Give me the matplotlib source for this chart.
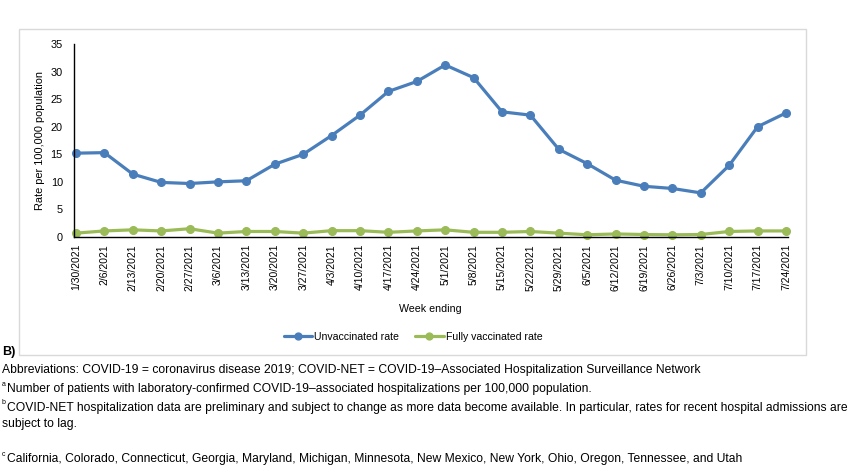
import matplotlib
matplotlib.use("Agg")
import matplotlib.pyplot as plt
from matplotlib.patches import Rectangle

plt.rcParams['font.family'] = ['Liberation Sans', 'DejaVu Sans']

weeks = ["1/30/2021", "2/6/2021", "2/13/2021", "2/20/2021", "2/27/2021", "3/6/2021",
         "3/13/2021", "3/20/2021", "3/27/2021", "4/3/2021", "4/10/2021", "4/17/2021",
         "4/24/2021", "5/1/2021", "5/8/2021", "5/15/2021", "5/22/2021", "5/29/2021",
         "6/5/2021", "6/12/2021", "6/19/2021", "6/26/2021", "7/3/2021", "7/10/2021",
         "7/17/2021", "7/24/2021"]
unvaccinated = [15.2, 15.3, 11.4, 9.9, 9.7, 10.0, 10.2, 13.2, 15.0, 18.4, 22.1, 26.4,
                28.2, 31.2, 28.9, 22.7, 22.1, 15.9, 13.3, 10.3, 9.2, 8.8, 8.0, 13.0,
                20.0, 22.5]
fully_vaccinated = [0.7, 1.1, 1.3, 1.1, 1.5, 0.7, 1.0, 1.0, 0.7, 1.15, 1.15, 0.85,
                    1.1, 1.3, 0.85, 0.85, 1.0, 0.7, 0.4, 0.55, 0.45, 0.4, 0.45, 1.0,
                    1.1, 1.1]
yticks = [0, 5, 10, 15, 20, 25, 30, 35]

W, H = 865, 475
fig = plt.figure(figsize=(W / 100, H / 100), dpi=100)

# chart frame
frame = Rectangle((19 / W, 1 - 355 / H), (806 - 19) / W, (355 - 29) / H,
                  transform=fig.transFigure, facecolor='none',
                  edgecolor='#d9d9d9', linewidth=1.0, zorder=-5)
fig.patches.append(frame)

ax = fig.add_axes([74 / W, 1 - 237 / H, (788 - 74) / W, (237 - 44) / H], zorder=2)
ax.patch.set_alpha(0)
x = list(range(len(weeks)))
blue = '#4a7ebb'
green = '#9bbb59'
l1, = ax.plot(x, unvaccinated, color=blue, lw=2.3, marker='o', ms=5.5,
              label='Unvaccinated rate', solid_capstyle='round', clip_on=False)
l2, = ax.plot(x, fully_vaccinated, color=green, lw=2.3, marker='o', ms=5.5,
              label='Fully vaccinated rate', solid_capstyle='round', clip_on=False)

ax.set_xlim(-0.07, len(weeks) - 1 + 0.07)
ax.set_ylim(0, 35)
ax.set_yticks(yticks)
ax.set_yticklabels([str(v) for v in yticks], fontsize=7.8)
ax.set_xticks(x)
ax.set_xticklabels(weeks, rotation=90, fontsize=7.5)
ax.tick_params(axis='y', length=0, pad=8)
ax.tick_params(axis='x', length=0, pad=5)
for s in ['top', 'right']:
    ax.spines[s].set_visible(False)
for s in ['left', 'bottom']:
    ax.spines[s].set_color('black')
    ax.spines[s].set_linewidth(1.0)

fig.text(40 / W, 1 - 140 / H, 'Rate per 100,000 population', rotation=90,
         ha='center', va='center', fontsize=7.9)
fig.text(430 / W, 1 - 309 / H, 'Week ending', ha='center', va='center', fontsize=7.7)

leg = fig.legend(handles=[l1, l2], loc='center', bbox_to_anchor=(413 / W, 1 - 337 / H),
                 ncol=2, frameon=False, fontsize=7.6, handlelength=2.7,
                 columnspacing=1.5, handletextpad=0.2, markerscale=0.9)

fs = 8.7
fig.text(2 / W, 1 - 352 / H, 'B)', fontsize=9, fontweight='bold', va='center')
fig.text(2 / W, 1 - 370 / H,
         'Abbreviations: COVID-19 = coronavirus disease 2019; COVID-NET = COVID-19\u2013Associated Hospitalization Surveillance Network',
         fontsize=fs, va='center')
fig.text(2 / W, 1 - 384 / H, 'a', fontsize=5, va='center')
fig.text(7 / W, 1 - 389 / H,
         'Number of patients with laboratory-confirmed COVID-19\u2013associated hospitalizations per 100,000 population.',
         fontsize=fs, va='center')
fig.text(2 / W, 1 - 403 / H, 'b', fontsize=5, va='center')
fig.text(7 / W, 1 - 408 / H,
         'COVID-NET hospitalization data are preliminary and subject to change as more data become available. In particular, rates for recent hospital admissions are',
         fontsize=fs, va='center')
fig.text(2 / W, 1 - 424 / H, 'subject to lag.', fontsize=fs, va='center')
fig.text(2 / W, 1 - 455 / H, 'c', fontsize=5, va='center')
fig.text(7 / W, 1 - 459 / H,
         'California, Colorado, Connecticut, Georgia, Maryland, Michigan, Minnesota, New Mexico, New York, Ohio, Oregon, Tennessee, and Utah',
         fontsize=fs, va='center')

fig.savefig('out.png', dpi=100)
